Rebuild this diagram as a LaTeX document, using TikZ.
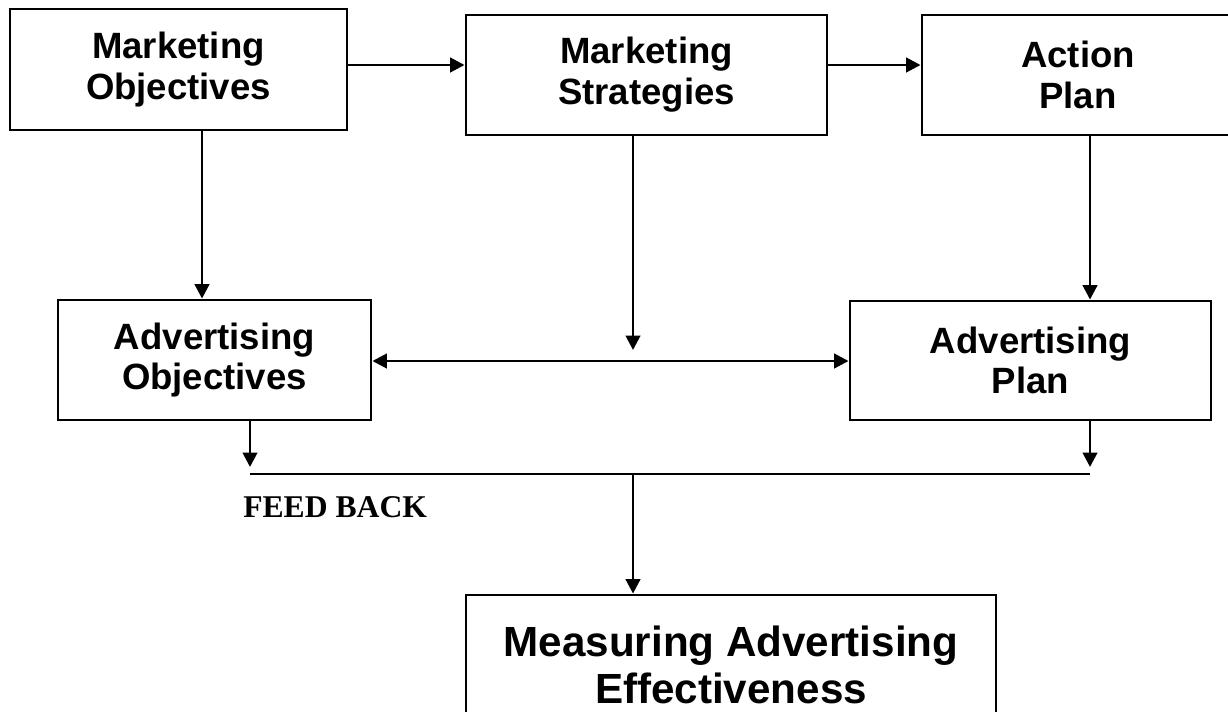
\documentclass[tikz,border=0pt]{standalone}
\usepackage{fontspec}
\setmainfont{Liberation Sans}
\newfontfamily\fbfont{Liberation Serif}
\usetikzlibrary{arrows.meta}

\tikzset{
  box/.style={draw, line width=2pt, align=center, inner sep=0pt,
    font=\bfseries\fontsize{26}{29}\selectfont},
  bigbox/.style={box, font=\bfseries\fontsize{30}{34}\selectfont},
  arr/.style={-{Triangle[length=0.36cm,width=0.36cm]}, line width=2pt},
  twoarr/.style={{Triangle[length=0.36cm,width=0.36cm]}-{Triangle[length=0.36cm,width=0.36cm]}, line width=2pt},
  ln/.style={line width=2pt},
  fbtext/.style={font=\fbfont\bfseries\fontsize{22.5}{26}\selectfont, inner sep=0pt}
}

\begin{document}
\begin{tikzpicture}[x=0.025cm, y=-0.025cm]
  \clip (0,0) rectangle (1228,711);
  \fill[white] (0,0) rectangle (1228,711);

  % top row
  \node[box, minimum width=8.425cm, minimum height=3.025cm] (mo) at (178.5,69.5) {Marketing\\Objectives};
  \node[box, minimum width=9.025cm, minimum height=3cm] (ms) at (646.5,75) {Marketing\\Strategies};
  \node[box, minimum width=7.8cm, minimum height=3cm] (ap) at (1078,75) {Action\\Plan};

  % middle row
  \node[box, minimum width=7.825cm, minimum height=3cm] (ao) at (214.5,360) {Advertising\\Objectives};
  \node[box, minimum width=9.025cm, minimum height=2.975cm] (apl) at (1030.5,360.5) {Advertising\\Plan};

  % bottom
  \node[bigbox, minimum width=13.25cm, minimum height=3.5cm] (mae) at (731,665) {Measuring Advertising\\Effectiveness};
  \node[fbtext, anchor=base west] (fb) at (243,517) {FEED BACK};

  % helper coordinates
  \coordinate (row1) at (0,65);
  \coordinate (row2) at (0,361);
  \coordinate (col1) at (202,0);
  \coordinate (col2) at (633,0);
  \coordinate (col3) at (1090,0);
  \coordinate (mid) at (633,350);
  \coordinate (fbl) at (250,474);
  \coordinate (fbr) at (1090,474);
  \coordinate (fbm) at (633,474);
  \coordinate (tipl) at (250,467);
  \coordinate (tipr) at (1090,467);

  % connectors
  \draw[arr] (mo.east |- row1) -- (ms.west |- row1);
  \draw[arr] (ms.east |- row1) -- (ap.west |- row1);
  \draw[arr] (mo.south -| col1) -- (ao.north -| col1);
  \draw[arr] (ms.south -| col2) -- (mid);
  \draw[arr] (ap.south -| col3) -- (apl.north -| col3);
  \draw[twoarr] (ao.east |- row2) -- (apl.west |- row2);
  \draw[arr] (ao.south -| fbl) -- (tipl);
  \draw[arr] (apl.south -| fbr) -- (tipr);
  \draw[ln] (fbl) -- (fbr);
  \draw[arr] (fbm) -- (mae.north -| fbm);
\end{tikzpicture}
\end{document}
